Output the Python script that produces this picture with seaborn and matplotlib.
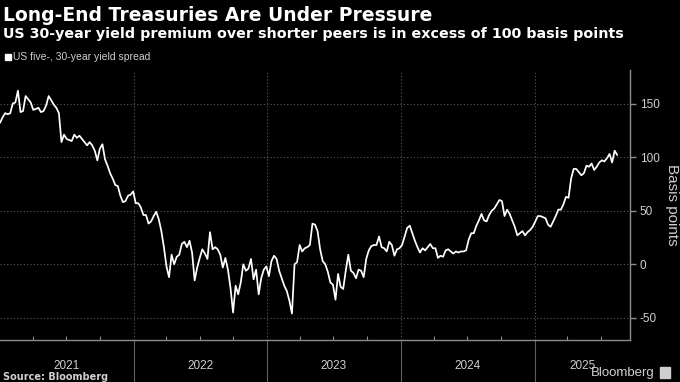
import pandas as pd
import matplotlib.pyplot as plt
import matplotlib.dates as mdates
import seaborn as sns

# Weekly (Friday) readings of the US 5s30s yield spread, basis points
spread_bp = [
    132, 137, 141, 140, 141, 150, 151, 162, 142, 143,
    157, 154, 151, 144, 145, 146, 142, 143, 148, 157,
    153, 149, 146, 141, 114, 121, 117, 116, 115, 121,
    118, 120, 117, 114, 111, 114, 111, 106, 97, 108,
    112, 98, 92, 85, 80, 74, 73, 64, 58, 59,
    64, 65, 68, 57, 57, 53, 46, 46, 38, 40,
    45, 49, 42, 31, 16, -2, -12, 9, 0, 7,
    9, 19, 21, 16, 22, 11, -15, -3, 6, 14,
    10, 5, 30, 14, 16, 14, 9, -3, 6, -5,
    -22, -45, -20, -28, -17, 0, -6, -4, 5, -14,
    -5, -28, -13, -5, -2, -11, 3, 8, 5, -6,
    -13, -20, -25, -34, -46, 0, 2, 18, 12, 15,
    16, 18, 38, 37, 31, 14, 3, 0, -7, -17,
    -19, -33, -9, -21, -23, -6, 9, -6, -8, -13,
    -5, -6, -12, 5, 13, 17, 18, 18, 26, 16,
    15, 12, 21, 18, 8, 14, 15, 18, 26, 34,
    36, 29, 22, 16, 11, 15, 13, 16, 19, 15,
    15, 6, 8, 7, 13, 14, 12, 10, 12, 11,
    12, 12, 13, 23, 29, 29, 36, 41, 47, 41,
    40, 46, 50, 52, 56, 60, 59, 45, 51, 47,
    41, 35, 27, 29, 31, 27, 30, 32, 35, 40,
    45, 45, 44, 43, 37, 35, 40, 45, 51, 51,
    56, 63, 62, 80, 89, 89, 86, 83, 85, 92,
    91, 94, 88, 91, 95, 97, 96, 99, 103, 95,
    106, 102,
]
start_date = "2021-01-01"
end_date = "2025-09-19"
year_labels = ["2021", "2022", "2023", "2024", "2025"]
y_ticks = [-50, 0, 50, 100, 150]

df = pd.DataFrame({
    "date": pd.date_range(start_date, periods=len(spread_bp), freq="W-FRI"),
    "spread": spread_bp,
})

grey = "#8c8c8c"
text_grey = "#cfcfcf"

sns.set_theme(style="dark", rc={
    "figure.facecolor": "black",
    "axes.facecolor": "black",
    "savefig.facecolor": "black",
})
plt.rcParams["font.family"] = ["Liberation Sans", "DejaVu Sans"]

fig = plt.figure(figsize=(6.8, 3.82), dpi=100)
ax = fig.add_axes([0.0, 0.110, 0.9265, 0.7068])

sns.lineplot(data=df, x="date", y="spread", color="white", linewidth=1.25, ax=ax)

x0, x1 = pd.Timestamp(start_date), pd.Timestamp(end_date)
ax.set_xlim(x0, x1)
ax.set_ylim(-70.6, 181.3)

# right-hand value axis
ax.yaxis.tick_right()
ax.yaxis.set_label_position("right")
ax.set_yticks(y_ticks)
ax.set_yticklabels([str(t) for t in y_ticks])
ax.tick_params(axis="y", which="major", right=True, left=False, length=4, width=1,
               color=grey, labelcolor=text_grey, labelsize=8.5, pad=3)
ax.set_ylabel("Basis points", color=text_grey, fontsize=11, rotation=270, labelpad=14)

# year separators below the axis, quarter ticks above
years = [pd.Timestamp(f"{y}-01-01") for y in year_labels[1:]]
ax.set_xticks(years)
ax.set_xticklabels([])
ax.xaxis.set_minor_locator(mdates.MonthLocator(bymonth=[4, 7, 10]))
ax.tick_params(axis="x", which="major", bottom=True, length=32, width=0.8,
               direction="out", color="#5f5f5f")
ax.tick_params(axis="x", which="minor", bottom=True, length=3, width=0.8,
               direction="in", color=grey)
ax.set_xlabel("")

edges = [x0] + years + [x1]
for lab, a, b in zip(year_labels, edges[:-1], edges[1:]):
    ax.text(a + (b - a) / 2, -0.098, lab, transform=ax.get_xaxis_transform(),
            ha="center", va="center", color=text_grey, fontsize=8.5)

ax.grid(axis="y", color="#5a5a5a", linestyle=(0, (1, 2)), linewidth=0.8)
ax.grid(axis="x", which="major", color="#5a5a5a", linestyle=(0, (1, 2)), linewidth=0.8)

for side in ["left", "top"]:
    ax.spines[side].set_visible(False)
for side in ["right", "bottom"]:
    ax.spines[side].set_color(grey)
    ax.spines[side].set_linewidth(1)

# headline text
fig.text(0.004, 0.985, "Long-End Treasuries Are Under Pressure", color="white",
         fontsize=13.5, fontweight="bold", family="DejaVu Sans", va="top")
fig.text(0.004, 0.930, "US 30-year yield premium over shorter peers is in excess of 100 basis points",
         color="white", fontsize=10.3, fontweight="bold", family="DejaVu Sans", va="top")
fig.patches.append(plt.Rectangle((0.0075, 0.843), 0.0085, 0.016, transform=fig.transFigure,
                                 color="white", figure=fig))
fig.text(0.019, 0.851, "US five-, 30-year yield spread", color=text_grey, fontsize=7.5, va="center")

fig.text(0.004, 0.013, "Source: Bloomberg", color=text_grey, fontsize=7,
         fontweight="bold", family="DejaVu Sans", va="center")
fig.text(0.963, 0.024, "Bloomberg", color=text_grey, fontsize=9.5, ha="right", va="center")
fig.patches.append(plt.Rectangle((0.970, 0.011), 0.015, 0.028, transform=fig.transFigure,
                                 color=text_grey, figure=fig))

fig.savefig("out.png", dpi=100)
